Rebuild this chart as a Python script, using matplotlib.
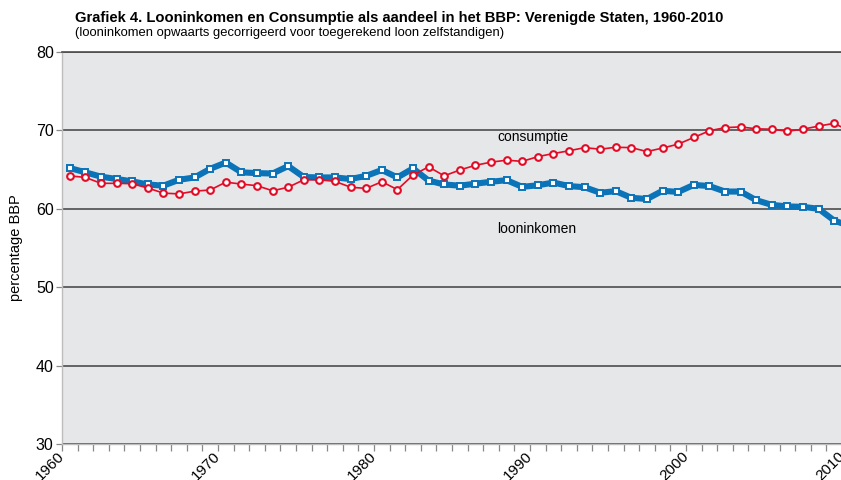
import matplotlib
matplotlib.use("Agg")
import matplotlib.pyplot as plt
import numpy as np

years = list(range(1960, 2011))
consumptie = [64.2, 64.0, 63.25, 63.25, 63.2, 62.65, 62.0, 61.9, 62.25, 62.4,
              63.4, 63.15, 62.95, 62.3, 62.75, 63.7, 63.7, 63.5, 62.75, 62.6,
              63.45, 62.45, 64.3, 65.35, 64.2, 64.95, 65.55, 65.95, 66.2, 66.05,
              66.65, 67.05, 67.4, 67.8, 67.6, 67.85, 67.8, 67.3, 67.75, 68.25,
              69.1, 69.95, 70.35, 70.45, 70.2, 70.15, 69.9, 70.15, 70.55, 70.9,
              69.9]
looninkomen = [65.2, 64.65, 64.1, 63.8, 63.5, 63.1, 62.95, 63.7, 64.0, 65.1,
               65.9, 64.65, 64.55, 64.5, 65.45, 64.05, 64.0, 64.0, 63.8, 64.2,
               64.95, 64.0, 65.15, 63.6, 63.1, 62.95, 63.2, 63.45, 63.65, 62.8,
               63.0, 63.35, 62.9, 62.75, 62.05, 62.25, 61.4, 61.25, 62.3, 62.15,
               63.05, 62.9, 62.2, 62.2, 61.1, 60.5, 60.3, 60.25, 60.0, 58.5,
               57.8]
xtick_years = [1960, 1970, 1980, 1990, 2000, 2010]
yticks = [30, 40, 50, 60, 70, 80]

title = "Grafiek 4. Looninkomen en Consumptie als aandeel in het BBP: Verenigde Staten, 1960-2010"
subtitle = "(looninkomen opwaarts gecorrigeerd voor toegerekend loon zelfstandigen)"

RED = "#e30b25"
BLUE = "#0b74b8"
BG = "#e6e7e9"

plt.rcParams['font.family'] = ['Liberation Sans', 'DejaVu Sans']

W, H = 841, 480
fig = plt.figure(figsize=(W / 100, H / 100), dpi=100)
ax = fig.add_axes([62 / W, 36 / H, 795.6 / W, 392 / H])
ax.set_facecolor(BG)

x = np.array(years) + 0.5
ax.plot(x, looninkomen, color=BLUE, lw=4.4, solid_joinstyle='round',
        solid_capstyle='round', zorder=3)
ax.plot(x, looninkomen, ls='none', marker='s', ms=4.0, mfc='white', mec=BLUE,
        mew=1.4, zorder=4)
ax.plot(x, consumptie, color=RED, lw=1.2, marker='o', ms=4.8, mfc='white',
        mec=RED, mew=1.5, zorder=5)

ax.set_xlim(1960, 2011)
ax.set_ylim(30, 80)
ax.set_yticks(yticks)
ax.set_yticklabels([str(v) for v in yticks], fontsize=11.5)
ax.set_xticks(xtick_years)
ax.set_xticklabels([str(v) for v in xtick_years], rotation=45, ha='right',
                   va='center', rotation_mode='anchor', fontsize=11)
ax.set_xticks(years, minor=True)
ax.tick_params(axis='x', which='both', direction='out', length=5, width=0.9,
               color='#888888', pad=2)
ax.tick_params(axis='y', direction='out', length=4, width=0.9, color='#888888', pad=2)

ax.set_axisbelow(True)
ax.grid(axis='y', color='#4d4d4d', lw=1.2)
for s in ['left', 'bottom']:
    ax.spines[s].set_color('#bdbdbd')
    ax.spines[s].set_linewidth(1.0)
ax.spines['top'].set_color('#4d4d4d')
ax.spines['top'].set_linewidth(1.2)
ax.spines['right'].set_visible(False)

ax.set_ylabel("percentage BBP", fontsize=10.5, labelpad=9)

ax.text(1987.9, 69.2, "consumptie", fontsize=10, va='center', ha='left')
ax.text(1987.9, 57.4, "looninkomen", fontsize=10, va='center', ha='left')

fig.text(75 / W, 1 - 18 / H, title, fontsize=10.6, fontweight='bold',
         va='center', ha='left')
fig.text(75 / W, 1 - 33 / H, subtitle, fontsize=9.4, va='center', ha='left')

fig.savefig("out.png", dpi=100, facecolor='white')
